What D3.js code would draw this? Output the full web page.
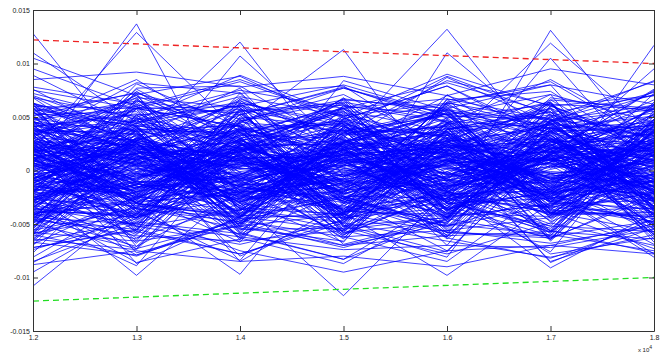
<!DOCTYPE html>
<html><head><meta charset="utf-8">
<script src="https://cdn.jsdelivr.net/npm/d3@7"></script>
<style>html,body{margin:0;padding:0;background:#fff;}svg{display:block;}</style>
</head><body><svg id="c" width="664" height="356"></svg>
<script>
// x positions (in units of 10^4)
const xValues = [1.2, 1.3, 1.4, 1.5, 1.6, 1.7, 1.8];
const xTickLabels = ["1.2", "1.3", "1.4", "1.5", "1.6", "1.7", "1.8"];
const yTicks = [-0.015, -0.01, -0.005, 0, 0.005, 0.01, 0.015];
const yTickLabels = ["-0.015", "-0.01", "-0.005", "0", "0.005", "0.01", "0.015"];
const xExponentLabel = "x 10";
const xExponent = "4";
// dashed bound lines
const boundX = [1.2, 1.8];
const upperBound = [0.0122, 0.0100];
const lowerBound = [-0.0122, -0.0100];
// series values, in units of 1e-4 (one row per blue line, values at xValues)
const valueUnit = 1e-4;
const seriesValues = [
[128,8,-25,12,-30,18,4],[6,137,-42,15,22,-10,30],[20,129,35,-18,10,45,-22],[-12,28,120,-5,30,-25,15],
[35,-10,107,20,-15,8,40],[5,-30,40,113,-20,15,-8],[-20,15,-35,30,132,10,25],[10,-25,20,-40,110,30,-15],
[25,10,-15,20,-30,131,12],[-8,30,10,-20,25,119,35],[15,-20,30,10,-10,105,-5],[30,5,-10,25,15,-20,117],
[110,45,60,20,35,10,95],[105,70,30,55,-10,40,60],[-108,-30,-50,10,-40,20,-60],[-95,-40,10,-60,-20,-35,-10],
[-20,-98,-15,-30,10,-25,-40],[10,-30,-97,20,-40,15,-20],[-25,-10,-30,-117,-20,-40,10],[-30,-40,-75,-95,-75,-70,-50],
[15,-20,10,-40,-98,-30,-10],[-10,25,-30,15,-20,-91,-40],[-40,-30,-20,-10,-35,-20,-81],[-60,-80,-45,-70,-50,-60,-75],
[-35,-50,-62,-74,-70,-72,-55],[85,92,78,88,70,95,80],[-88,-75,-85,-80,-90,-70,-78],[95,60,85,50,90,60,70],
[42,-18,55,-31,8,63,-27],[-15,37,-44,12,59,-22,31],[61,-5,23,47,-38,14,-52],[-33,52,-9,-61,27,40,-6],
[8,-47,35,19,-25,-58,44],[-54,21,66,-12,-43,29,17],[27,70,-21,38,4,-33,-49],[-3,-26,12,-45,71,9,58],
[49,33,-56,2,-17,51,-30],[-41,-64,18,57,36,-11,23],[14,58,41,-27,-52,25,-64],[-66,11,-30,43,15,-47,37],
[36,-39,7,68,-8,62,-13],[-22,45,73,-15,48,-29,6],[55,-12,-38,29,-61,18,52],[-9,76,26,-50,21,57,-34],
[20,-55,49,11,40,-66,27],[-48,30,-7,-35,-23,34,-55],[68,4,-63,52,30,-14,41],[-27,-33,38,24,-70,46,9],
[3,62,-19,-8,55,-37,-21],[44,-71,14,36,-4,23,62],[-60,16,52,-58,33,7,-40],[19,41,-46,61,-29,-54,15],
[-37,-8,29,-22,64,38,-67],[52,55,-11,17,-47,60,28],[-11,-42,63,45,11,-26,-9],[31,23,-28,-67,42,16,50],
[-50,67,5,31,-56,-44,19],[7,-17,44,-6,26,71,-43],[63,36,-52,54,-14,-9,33],[-19,-60,21,-39,50,32,-18],
[39,9,68,22,-33,-61,56],[-45,48,-34,9,19,44,-28],[24,-30,15,-53,67,-20,10],[-6,72,-58,40,-41,27,47],
[58,-23,32,63,6,-39,-57],[-31,18,-15,-28,38,58,22],[12,-52,58,14,-64,11,-36],[-57,39,9,-46,29,-30,64],
[46,14,-40,27,54,49,-16],[-24,-73,27,59,-19,-52,39],[17,50,-23,-34,45,20,-60],[-62,-3,47,6,-35,66,12],
[33,64,-5,-63,17,-6,-31],[-14,-35,61,33,-55,37,54],[60,27,-49,-17,62,-45,-3],[-40,-58,17,50,-10,24,45],
[9,43,-65,21,37,-63,-25],[-52,6,36,-41,8,52,18],[28,-46,3,66,-48,5,-50],[-2,59,54,-30,23,-35,35],
[50,-15,-26,8,57,42,-12],[-35,31,8,-55,-26,-17,61],[16,-66,50,41,13,63,-38],[-65,25,-37,-11,47,-24,26],
[41,53,20,56,-39,30,-47],[-18,-21,-60,-2,34,-57,4],[6,38,42,-59,-13,15,43],[-44,-50,-13,26,60,-40,-20],
[57,15,39,-25,-50,54,30],[-28,61,-53,49,16,-8,-59],[22,-38,24,-14,-62,35,14],[-56,2,-4,35,41,-65,48],
[37,47,64,-48,2,10,-26],[-7,-63,-31,18,-30,47,7],[48,20,11,60,52,-31,-45],[-38,-13,56,-37,-7,26,34],
[11,57,-36,4,28,-48,-8],[-59,-41,30,53,-45,39,20],[30,8,-61,-20,63,2,53],[-16,49,13,-60,-21,59,-35],
[64,-28,45,37,35,-12,11],[-47,34,-18,-7,-58,31,-62],[2,-57,67,28,10,-59,38],[45,26,-42,-44,44,17,-19],
[-25,-7,33,62,-36,50,25],[18,68,-27,-19,20,-27,-48],[-63,-25,4,23,56,36,2],[35,12,59,-52,-16,-50,46],
[-12,-44,-8,46,31,13,-29],[54,42,25,-29,-60,61,16],[-42,-2,-50,15,49,-18,-54],[13,-68,37,58,-3,43,32],
[-53,35,-24,-36,24,-42,-14],[40,5,62,10,-44,8,59],[-20,66,-2,-64,39,55,-37],[59,-36,19,39,14,-64,21],
[-34,19,-47,-24,-53,21,-2],[4,-49,46,64,46,40,-42],[47,60,-14,-4,-27,-34,36],[-49,-16,22,-49,61,28,-11],
[26,29,-59,32,-9,-56,51],[-4,-53,53,-13,43,64,-23],[62,22,-33,48,-37,-3,8],[-30,74,16,-42,7,12,-52],
[21,-31,-43,25,53,-37,42],[-58,10,48,-27,-49,48,-6],[34,-59,6,55,18,-22,24],[-9,40,-55,-54,-1,33,-33],
[12,-8,25,-14,5,19,-22],[-17,23,-6,28,-20,3,14],[5,-27,18,7,30,-12,-4],[26,14,-21,-9,-15,27,9],
[-23,-4,10,21,12,-25,29],[9,29,-16,-26,24,6,-18],[-5,-19,28,3,-28,16,21],[20,7,-3,17,9,-29,-10],
[-28,17,13,-19,-6,22,3],[15,-12,-27,26,19,-7,-26],[-11,26,7,-2,-24,11,16],[24,-23,20,-23,14,28,-15],
[-19,3,-24,12,27,-16,7],[1,21,16,-29,-11,4,25],[29,-15,-10,9,3,-21,-7],[-26,10,24,24,-17,14,19],
[7,-28,-13,-12,22,25,-28],[-14,16,3,19,-27,-9,11],[22,-2,-29,-5,6,18,-20],[-8,28,11,14,17,-27,27],
[18,-9,27,-21,-9,7,1],[-29,13,-8,6,25,-13,-23],[10,-21,19,29,-4,24,13],[-3,5,-20,-16,11,-4,-13],
[27,24,2,1,-22,-19,23],[-21,-14,29,-27,28,29,-1],[4,19,-18,22,-13,-11,17],[16,-25,8,-8,4,12,-25],
[-24,9,-25,16,20,-24,5],[13,-6,14,-24,-26,20,28],[-10,27,-1,10,13,-2,-17],[23,-17,22,-1,-18,26,10],
[-16,1,-14,27,1,-14,-27],[6,22,26,-17,26,5,20],[-27,-11,-7,5,-8,-28,-3],[19,11,17,-22,16,17,26],
[-2,-29,-22,20,-29,-6,-11],[25,18,5,-11,8,23,6],[-13,-3,23,25,-14,-18,-21],[8,25,-28,-3,29,9,15],
[-22,-16,12,13,-3,-23,2],[28,4,-11,-28,21,28,-19],[-6,-24,21,8,-25,1,24],[14,15,-26,-13,10,-20,-9],
[-25,-1,6,18,-21,21,18],[3,20,15,-20,15,-10,-24],[21,-13,-19,11,-7,13,8],[-18,12,28,-6,24,-26,-14],
[11,-20,-4,23,-16,8,22],[-1,8,9,-15,2,-5,-2],[17,-26,-17,4,18,24,-16],[-12,24,1,15,-23,-15,12],
[26,-7,18,-25,7,10,-29],[-20,2,-23,0,-2,-22,4],[2,13,4,26,23,27,27],[-15,-22,25,-18,-12,-1,-6],
[24,6,-9,7,12,-17,14],[-9,-18,14,-10,-19,15,-22],[12,27,-15,19,27,-8,9],[-27,-5,-2,-26,-5,20,-12],
[0,16,20,2,5,-27,17],[18,-10,-21,16,-15,4,-4],[-7,4,10,-4,9,-12,26],[9,-16,-6,12,-10,11,-8],
[-4,11,2,-9,14,-3,7],[6,-3,-12,5,-6,7,-15],
[38,34,-45,-40,36,45,-20],[-42,-10,38,44,16,-38,-35],[33,46,30,-38,-41,14,-33],[-36,-44,-15,40,33,-40,38],
[72,48,-36,-55,64,80,-27],[-81,-26,52,78,45,-39,-73],[55,-23,-67,41,88,52,-18],[-67,-79,-44,36,57,21,35],
[89,41,61,-33,-52,-24,62],[-46,58,83,49,-21,-56,-77],[63,26,-49,-72,-46,17,44],[-74,-45,23,58,67,48,-36],
[47,-31,-44,21,70,39,51],[-28,-52,-69,-47,19,66,58],[78,62,25,-38,-43,45,84],[-52,28,56,63,-19,-78,-63],
[16,47,89,51,-31,-22,47],[-59,-34,45,77,52,-16,-39],[34,-57,-78,-46,24,43,71],[-43,-71,-21,35,84,61,22],
[51,73,32,-58,-48,27,74],[-85,-49,16,67,55,-29,-36],[70,36,-58,-83,-26,68,55],[-21,77,79,22,-63,-82,-49],
[45,19,-63,-87,-33,47,61],[-72,-56,28,48,79,33,-27],[31,82,72,-24,-58,-61,29],[-48,-13,46,71,22,-86,-45],
[58,44,17,-69,-45,23,66],[-33,-86,-64,26,87,44,-21],[69,22,-85,-31,66,74,13],[-55,52,57,-43,-62,16,76],
[27,-77,-51,48,79,28,-58],[-69,-24,72,79,17,-85,-54],[43,85,26,-62,-85,-16,72],[-77,18,65,33,-58,-63,24],
[62,-53,-37,84,56,-29,-48],[-19,81,41,-52,-81,47,38],[76,25,-54,-66,29,58,-34],[-64,-74,18,67,-24,-76,43],
[19,71,88,43,-31,-52,-57],[-86,-35,55,61,45,-18,-69],[23,-87,-43,46,62,83,26],[-53,31,77,-25,-75,15,57],
[60,58,-21,-57,18,64,-46],[-28,-79,-49,34,53,-19,-78],[54,16,-80,-39,44,85,32],[-45,-89,24,58,-29,-57,48],
[35,68,59,-51,-76,17,75],[-70,28,63,42,-36,-64,-21],[46,-38,-84,27,53,36,-53],[-60,65,38,-46,-18,50,83],
[55,72,48,66,58,80,62],[-58,-66,-52,-70,-61,-57,-64],[68,50,75,58,82,54,70],[-72,-55,-78,-49,-66,-81,-60],
[48,65,52,77,49,62,57],[-50,-73,-47,-62,-56,-68,-52],[62,44,69,51,63,47,73],[-45,-61,-66,-56,-78,-49,-70],
[75,58,60,80,52,71,45],[-66,-48,-59,-83,-45,-62,-47],
[45,38,-52,-41,33,55,-28],[-38,49,31,-55,-44,36,42],[52,-36,-48,33,57,-41,-39],[-47,-55,39,46,-36,-20,53],
[34,58,41,-52,-44,37,38],[-56,-35,-54,37,51,48,-36],[41,52,-36,-49,39,46,57],[-33,-44,57,38,-52,-33,48],
[57,41,-43,-56,38,52,35],[-43,37,36,-41,-57,39,45],
[32,-14,41,8,-37,22,-5],[-36,27,-12,-40,18,35,-29],[14,40,-33,25,-8,-42,37],[-41,-20,22,-6,44,-15,-33],
[39,-35,-4,42,-29,11,26],[-7,33,44,-31,-12,40,-41],[28,-43,-26,16,39,-36,5],[-33,6,37,-44,-35,29,43],
[43,21,-40,-17,31,-3,-37],[-25,-39,15,38,-43,-32,18],[10,44,29,-22,6,43,-11],[-44,-12,-37,33,41,-8,30],
[35,-30,8,-43,-20,38,-44],[-12,37,-42,5,36,-41,21],[41,-1,33,30,-42,17,-30],[-38,-42,-19,-33,15,44,33],
[22,16,43,-38,-31,-26,-6],[-30,41,-8,27,43,-34,40],[6,-36,-44,41,-5,31,-42],[37,28,12,-21,-40,-43,15],
[-43,-27,40,14,22,9,-38],[17,35,-31,-42,34,-20,41],[-9,-44,24,37,-38,42,-16],[44,10,-22,-8,28,-37,-43],
[-35,39,34,-39,-16,20,37],[25,-33,-41,22,42,-44,-2],[-40,13,19,43,-33,33,-34],[31,-41,-15,-36,10,-29,44],
[-19,30,42,9,-44,37,-20],[38,-24,-38,35,25,-7,32],[-4,42,27,-45,-23,-39,-41],[40,-11,-5,19,45,30,9],
[-42,25,-43,-26,-1,-42,36],[20,-45,36,44,-37,12,-35],[-31,7,-29,-12,40,-33,23],[36,37,21,-37,-26,41,-9],
[-17,-31,-40,28,33,-18,42],[42,19,38,-10,-44,-31,-28],[-39,-40,-9,45,8,36,19],[11,32,-35,-41,37,-40,-43]
];

const svg = d3.select("#c");
const L = 33, R = 654, T = 10, B = 331;
const x = d3.scaleLinear().domain([1.2, 1.8]).range([L, R]);
const y = d3.scaleLinear().domain([-0.015, 0.015]).range([B, T]);

svg.append("clipPath").attr("id","pc").append("rect")
  .attr("x", L).attr("y", T).attr("width", R - L).attr("height", B - T);

const plot = svg.append("g").attr("clip-path","url(#pc)");
const line = d3.line().x((d,i) => x(xValues[i])).y(d => y(d * valueUnit));
plot.selectAll("path.s").data(seriesValues).enter().append("path")
  .attr("class","s").attr("d", line)
  .attr("fill","none").attr("stroke","#0000ff").attr("stroke-width",1).attr("stroke-opacity",0.75);

const bline = d3.line().x((d,i) => x(boundX[i])).y(d => y(d));
plot.append("path").attr("d", bline(upperBound)).attr("fill","none")
  .attr("stroke","#ee2222").attr("stroke-width",1.3).attr("stroke-dasharray","6,4");
plot.append("path").attr("d", bline(lowerBound)).attr("fill","none")
  .attr("stroke","#22dd22").attr("stroke-width",1.3).attr("stroke-dasharray","6,4");

// Axes (MATLAB style, ticks inward, box)
const axCol = "#333";
const fontFam = "Arial, 'Liberation Sans', Helvetica, sans-serif";
const gB = svg.append("g").attr("transform",`translate(0,${B})`)
  .call(d3.axisBottom(x).tickValues(xValues).tickSizeInner(-5).tickSizeOuter(0).tickPadding(4)
    .tickFormat((d,i) => xTickLabels[i]));
const gT = svg.append("g").attr("transform",`translate(0,${T})`)
  .call(d3.axisTop(x).tickValues(xValues).tickSizeInner(-5).tickSizeOuter(0).tickFormat(""));
const gL = svg.append("g").attr("transform",`translate(${L},0)`)
  .call(d3.axisLeft(y).tickValues(yTicks).tickSizeInner(-5).tickSizeOuter(0).tickPadding(3)
    .tickFormat((d,i) => yTickLabels[i]));
const gR = svg.append("g").attr("transform",`translate(${R},0)`)
  .call(d3.axisRight(y).tickValues(yTicks).tickSizeInner(-5).tickSizeOuter(0).tickFormat(""));
[gB,gT,gL,gR].forEach(g => {
  g.select(".domain").attr("stroke", axCol);
  g.selectAll(".tick line").attr("stroke", axCol);
  g.selectAll("text").attr("fill","#222").style("font-family", fontFam).style("font-size","7px");
});

const ex = svg.append("text").attr("x", 645).attr("y", 352).attr("text-anchor","middle")
  .attr("fill","#222").style("font-family", fontFam).style("font-size","6px");
ex.append("tspan").text(xExponentLabel);
ex.append("tspan").attr("dy",-3).style("font-size","5px").text(xExponent);
</script></body></html>
